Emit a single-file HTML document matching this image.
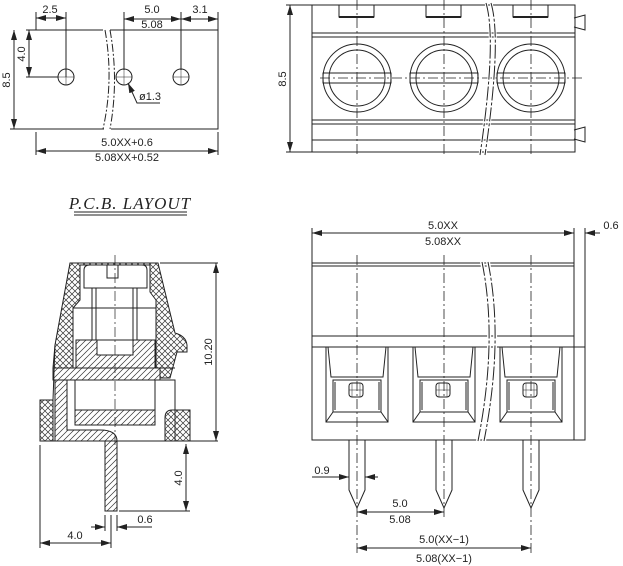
<!DOCTYPE html>
<html><head><meta charset="utf-8"><style>
html,body{margin:0;padding:0;background:#fff;}
svg{display:block;}
text{font-family:"Liberation Sans",sans-serif;font-size:11px;fill:#222;}
</style></head><body>
<svg width="623" height="566" viewBox="0 0 623 566" xmlns="http://www.w3.org/2000/svg">
<defs>
<marker id="a" viewBox="0 0 10 6" refX="10" refY="3" markerWidth="10" markerHeight="6" orient="auto-start-reverse" markerUnits="userSpaceOnUse"><path d="M0,0 L10,3 L0,6 z" fill="#222"/></marker>
<pattern id="x" width="6" height="6" patternUnits="userSpaceOnUse"><path d="M0,0L6,6M6,0L0,6" stroke="#333" stroke-width="0.7"/></pattern>
<pattern id="h" width="6" height="6" patternUnits="userSpaceOnUse"><path d="M0,6L6,0M-1,1L1,-1M5,7L7,5" stroke="#333" stroke-width="0.7"/></pattern>
</defs>
<g fill="none" stroke="#222" stroke-width="1">
<!-- PCB layout -->
<path d="M36,30H103M110,30H218V129H111M104,129H36Z"/>
<path d="M105,30 Q114,80 103,129 M110,30 Q119,80 110,129" stroke-dasharray="8,2,2,2"/>
<circle cx="66" cy="77" r="8"/><circle cx="124" cy="77" r="8"/><circle cx="181" cy="77" r="8"/>
<path d="M58,77H74M66,69V85M116,77H132M124,69V85M173,77H189M181,69V85" stroke-width="0.5"/>
<path d="M36,12V30M66,12V77M124,12V70M181,12V70M218,12V30"/>
<line x1="36" y1="18" x2="66" y2="18" marker-start="url(#a)" marker-end="url(#a)"/>
<line x1="124" y1="19" x2="181" y2="19" marker-start="url(#a)" marker-end="url(#a)"/>
<line x1="181" y1="19" x2="218" y2="19" marker-start="url(#a)" marker-end="url(#a)"/>
<path d="M26,30H36M26,77H58M10,129H36"/>
<line x1="29" y1="30" x2="29" y2="77" marker-start="url(#a)" marker-end="url(#a)"/>
<line x1="14" y1="30" x2="14" y2="129" marker-start="url(#a)" marker-end="url(#a)"/>
<path d="M36,132V155M218,132V155"/>
<line x1="36" y1="151" x2="218" y2="151" marker-start="url(#a)" marker-end="url(#a)"/>
<path d="M160,103H137L128,83" marker-end="url(#a)"/>
<path d="M74,212H187M74,215H187" stroke-width="1"/>
<!-- top right view -->
<path d="M312,5H575V152H312Z"/>
<path d="M312,33H575M312,37H575M312,120H575M312,124H575M312,140H575"/>
<path d="M339,5V17H374V5M426,5V17H461V5M513,5V17H548V5"/>
<path d="M339,17H374M426,17H461M513,17H548" stroke-width="2"/>
<circle cx="357" cy="78" r="34"/><circle cx="357" cy="78" r="28"/>
<circle cx="444" cy="78" r="34"/><circle cx="444" cy="78" r="28"/>
<circle cx="531" cy="78" r="34"/><circle cx="531" cy="78" r="28"/>
<path d="M323,73H391V83H323ZM410,73H478V83H410ZM497,73H565V83H497Z"/>
<path d="M357,0V156M444,0V156M531,0V156M320,78H582" stroke-dasharray="10,3,2,3" stroke-width="0.8"/>
<path d="M486,3Q497,40 480,155 M491,3Q502,40 485,155" stroke="#fff" stroke-width="3"/>
<path d="M486,3Q497,40 480,155 M491,3Q502,40 485,155" stroke-dasharray="14,2,3,2"/>
<path d="M574,18L585,15V30L574,27M574,130L585,127V142L574,139"/>
<path d="M286,5H312M286,152H312"/>
<line x1="290" y1="5" x2="290" y2="152" marker-start="url(#a)" marker-end="url(#a)"/>
<!-- section view -->
<path fill-rule="evenodd" fill="url(#x)" d="M70,263H158L175,333Q186,336 187,345V352H177L170,378H160V368H53L55,345Z M80,265H150V292L156,300V368H73V308L80,300Z"/>
<path d="M73,308H156V368H73Z"/>
<path d="M84,270Q84,265 90,265H142Q147,265 147,270V288H84Z"/>
<path d="M107,265V278H118V265"/>
<path d="M92,288V340M137,288V340M96,288V340M133,288V340"/>
<path d="M76,340H155V368H76Z" fill="url(#h)"/>
<path d="M97,340H133V355H97Z" fill="#fff"/>
<path d="M53,368H160V380H53Z" fill="url(#h)"/>
<path d="M55,380H67V430H100Q117,430 117,441H55Z" fill="url(#h)"/>
<path d="M67,380V430M160,380H175V441M65,368H175"/>
<path d="M75,380V425H155V380"/>
<path d="M75,410H155V425H75Z" fill="url(#h)"/>
<path d="M165,441V418Q165,410 172,410H190V441Z" fill="url(#x)"/>
<path d="M40,441V400H53V441Z" fill="url(#x)"/>
<path d="M53,400L55,345"/>
<path d="M105,441H117V511H105Z" fill="url(#h)"/>
<path d="M40,441H218M160,263H218"/>
<path d="M115,255V445" stroke-dasharray="10,3,2,3" stroke-width="0.7"/>
<line x1="216" y1="263" x2="216" y2="441" marker-start="url(#a)" marker-end="url(#a)"/>
<path d="M119,511H190"/>
<line x1="186" y1="444" x2="186" y2="511" marker-start="url(#a)" marker-end="url(#a)"/>
<path d="M105,515V531M111,515V548M117,515V531M40,445V548"/>
<line x1="91" y1="527" x2="105" y2="527" marker-end="url(#a)"/>
<line x1="152" y1="527" x2="117" y2="527" marker-end="url(#a)"/>
<line x1="40" y1="543" x2="111" y2="543" marker-start="url(#a)" marker-end="url(#a)"/>
<!-- front view -->
<path d="M312,263H574V440H312Z"/>
<path d="M312,266H574M312,336H574M312,347H585V440H574"/>
<path d="M312,228V263M574,228V263M585,228V347"/>
<line x1="312" y1="233" x2="574" y2="233" marker-start="url(#a)" marker-end="url(#a)"/>
<line x1="600" y1="233" x2="585" y2="233" marker-end="url(#a)"/>
<path d="M574,233H560"/>
<g id="op">
<path d="M326,347V422H388V347"/>
<path d="M328,347L331,377H383L386,347"/>
<path d="M333,380H381V412H333ZM333,412L326,422M381,412L388,422M335,382V410M379,382V410"/>
<rect x="349" y="383" width="14" height="14" rx="3"/>
<path d="M352,383V397M360,383V397M349,390H363" stroke-width="0.5"/>
<path d="M349,440V490L357,508L365,490V440"/>
</g>
<use href="#op" x="87"/>
<use href="#op" x="174"/>
<path d="M482,262Q498,340 478,441 M488,262Q504,340 484,441" stroke="#fff" stroke-width="4"/>
<path d="M482,262Q498,340 478,441 M488,262Q504,340 484,441" stroke-dasharray="14,2,3,2"/>
<path d="M357,255V555M444,255V520M531,255V555" stroke-dasharray="10,3,2,3" stroke-width="0.8"/>
<line x1="312" y1="477" x2="349" y2="477" marker-end="url(#a)"/>
<line x1="378" y1="477" x2="365" y2="477" marker-end="url(#a)"/>
<line x1="357" y1="512" x2="444" y2="512" marker-start="url(#a)" marker-end="url(#a)"/>
<line x1="357" y1="548" x2="531" y2="548" marker-start="url(#a)" marker-end="url(#a)"/>
</g>
<g>
<text x="50" y="13" text-anchor="middle">2.5</text>
<text x="152" y="13" text-anchor="middle">5.0</text>
<text x="152" y="28" text-anchor="middle">5.08</text>
<text x="200" y="13" text-anchor="middle">3.1</text>
<text transform="translate(25,54) rotate(-90)" text-anchor="middle">4.0</text>
<text transform="translate(10,80) rotate(-90)" text-anchor="middle">8.5</text>
<text x="139" y="100">ø1.3</text>
<text x="127" y="146" text-anchor="middle">5.0XX+0.6</text>
<text x="127" y="161" text-anchor="middle">5.08XX+0.52</text>
<text x="130" y="209" text-anchor="middle" style="font-family:'Liberation Serif',serif;font-style:italic;font-size:17px;letter-spacing:1px">P.C.B.  LAYOUT</text>
<text transform="translate(286,79) rotate(-90)" text-anchor="middle">8.5</text>
<text transform="translate(212,352) rotate(-90)" text-anchor="middle">10.20</text>
<text transform="translate(182,478) rotate(-90)" text-anchor="middle">4.0</text>
<text x="145" y="523" text-anchor="middle">0.6</text>
<text x="75" y="539" text-anchor="middle">4.0</text>
<text x="443" y="229" text-anchor="middle">5.0XX</text>
<text x="443" y="245" text-anchor="middle">5.08XX</text>
<text x="611" y="229" text-anchor="middle">0.6</text>
<text x="322" y="474" text-anchor="middle">0.9</text>
<text x="400" y="507" text-anchor="middle">5.0</text>
<text x="400" y="523" text-anchor="middle">5.08</text>
<text x="444" y="543" text-anchor="middle">5.0(XX−1)</text>
<text x="444" y="562" text-anchor="middle">5.08(XX−1)</text>
</g>
</svg>
</body></html>
